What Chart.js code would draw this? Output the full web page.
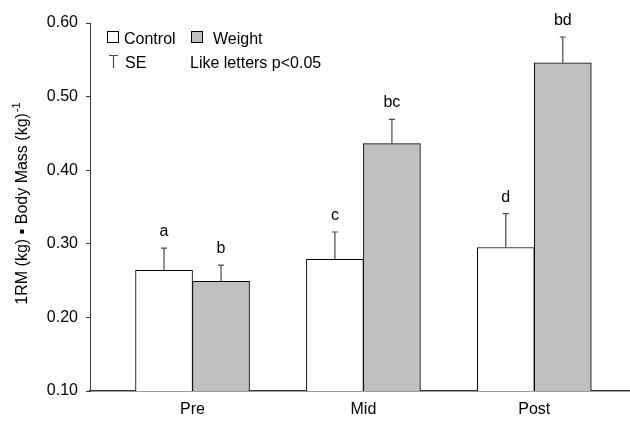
<!DOCTYPE html>
<html>
<head>
<meta charset="utf-8">
<script src="https://cdn.jsdelivr.net/npm/chart.js@4.4.0/dist/chart.umd.min.js"></script>
<style>
  body { margin: 0; background: #fff; }
  #wrap { width: 630px; height: 421px; }
</style>
</head>
<body>
<div id="wrap"><canvas id="strengthChart" width="630" height="421"></canvas></div>
<script>
var phases = ['Pre', 'Mid', 'Post'];
var controlMean = [0.264, 0.279, 0.295];
var weightMean = [0.249, 0.436, 0.546];
var controlSE = [0.030, 0.037, 0.046];
var weightSE = [0.022, 0.033, 0.035];
var controlLetters = ['a', 'c', 'd'];
var weightLetters = ['b', 'bc', 'bd'];
var yTicks = [0.10, 0.20, 0.30, 0.40, 0.50, 0.60];

var FONT = 'Liberation Sans, Arial, sans-serif';
var AXIS = '#3a3a3a';

// error bars (upper half only) + the letters over them
var errorBars = {
	id: 'errorBars',
	afterDatasetsDraw: function(chart) {
		var ctx = chart.ctx, y = chart.scales.y;
		var se = [controlSE, weightSE], letters = [controlLetters, weightLetters];
		ctx.save();
		chart.data.datasets.forEach(function(ds, i) {
			chart.getDatasetMeta(i).data.forEach(function(bar, j) {
				var top = y.getPixelForValue(ds.data[j] + se[i][j]);
				ctx.strokeStyle = '#4a4a4a';
				ctx.lineWidth = 1.2;
				ctx.beginPath();
				ctx.moveTo(bar.x, bar.y);
				ctx.lineTo(bar.x, top);
				ctx.moveTo(bar.x - 3, top);
				ctx.lineTo(bar.x + 3, top);
				ctx.stroke();
				ctx.fillStyle = '#000';
				ctx.font = '16px ' + FONT;
				ctx.textAlign = 'center';
				ctx.textBaseline = 'alphabetic';
				ctx.fillText(letters[i][j], bar.x, top - 12);
			});
		});
		ctx.restore();
	}
};

// legend block and y title (needs a superscript)
var decorations = {
	id: 'decorations',
	afterDraw: function(chart) {
		var ctx = chart.ctx;
		ctx.save();
		ctx.lineWidth = 1;
		ctx.strokeStyle = '#000';
		ctx.fillStyle = '#fff';
		ctx.fillRect(107.5, 31.5, 11, 11);
		ctx.strokeRect(107.5, 31.5, 11, 11);
		ctx.fillStyle = '#c0c0c0';
		ctx.fillRect(191.5, 31.5, 11, 11);
		ctx.strokeRect(191.5, 31.5, 11, 11);

		ctx.strokeStyle = '#4a4a4a';
		ctx.lineWidth = 1.2;
		ctx.beginPath();
		ctx.moveTo(109, 55.5); ctx.lineTo(118, 55.5);
		ctx.moveTo(113.5, 55.5); ctx.lineTo(113.5, 68);
		ctx.stroke();

		ctx.fillStyle = '#000';
		ctx.font = '16px ' + FONT;
		ctx.textAlign = 'left';
		ctx.textBaseline = 'alphabetic';
		ctx.fillText('Control', 124, 44);
		ctx.fillText('Weight', 213, 44);
		ctx.fillText('SE', 125, 68);
		ctx.fillText('Like letters p<0.05', 190, 68);

		// rotated axis title
		ctx.translate(27, 204);
		ctx.rotate(-Math.PI / 2);
		var main = '1RM (kg) \u25AA Body Mass (kg)';
		ctx.font = '16px ' + FONT;
		var w1 = ctx.measureText(main).width;
		ctx.font = '11px ' + FONT;
		var w2 = ctx.measureText('-1').width;
		var x0 = -(w1 + w2) / 2;
		ctx.font = '16px ' + FONT;
		ctx.fillText(main, x0, 0);
		ctx.font = '11px ' + FONT;
		ctx.fillText('-1', x0 + w1 + 1, -7);
		ctx.restore();
	}
};

new Chart(document.getElementById('strengthChart'), {
	type: 'bar',
	data: {
		labels: [0, 1, 2],
		datasets: [{
			label: 'Control',
			data: controlMean,
			backgroundColor: '#ffffff',
			borderColor: '#000',
			borderWidth: 1
		}, {
			label: 'Weight',
			data: weightMean,
			backgroundColor: '#c0c0c0',
			borderColor: '#000',
			borderWidth: 1
		}]
	},
	plugins: [errorBars, decorations],
	options: {
		responsive: false,
		animation: false,
		devicePixelRatio: 1,
		layout: { padding: { top: 23, right: 0, left: 0, bottom: 0 } },
		barThickness: 57,
		plugins: { legend: { display: false }, tooltip: { enabled: false } },
		scales: {
			x: {
				type: 'linear',
				offset: false,
				min: -0.6,
				max: 2.56,
				afterBuildTicks: function(s) { s.ticks = phases.map(function(p, i) { return { value: i }; }); },
				afterFit: function(s) { s.height = 30; },
				ticks: {
					padding: 9,
					color: '#000',
					font: { size: 16, family: FONT },
					callback: function(v) { return phases[v]; }
				},
				grid: { display: true, drawOnChartArea: false, drawTicks: false },
				border: { color: AXIS, width: 1.5 }
			},
			y: {
				min: 0.1,
				max: 0.6,
				afterBuildTicks: function(s) { s.ticks = yTicks.map(function(v) { return { value: v }; }); },
				afterFit: function(s) { s.width = 90; },
				ticks: {
					padding: 8,
					color: '#000',
					font: { size: 16, family: FONT },
					callback: function(v) { return v.toFixed(2); }
				},
				grid: { drawOnChartArea: false, drawTicks: true, tickLength: 4, color: AXIS },
				border: { color: AXIS, width: 1 }
			}
		}
	}
});
</script>
</body>
</html>
